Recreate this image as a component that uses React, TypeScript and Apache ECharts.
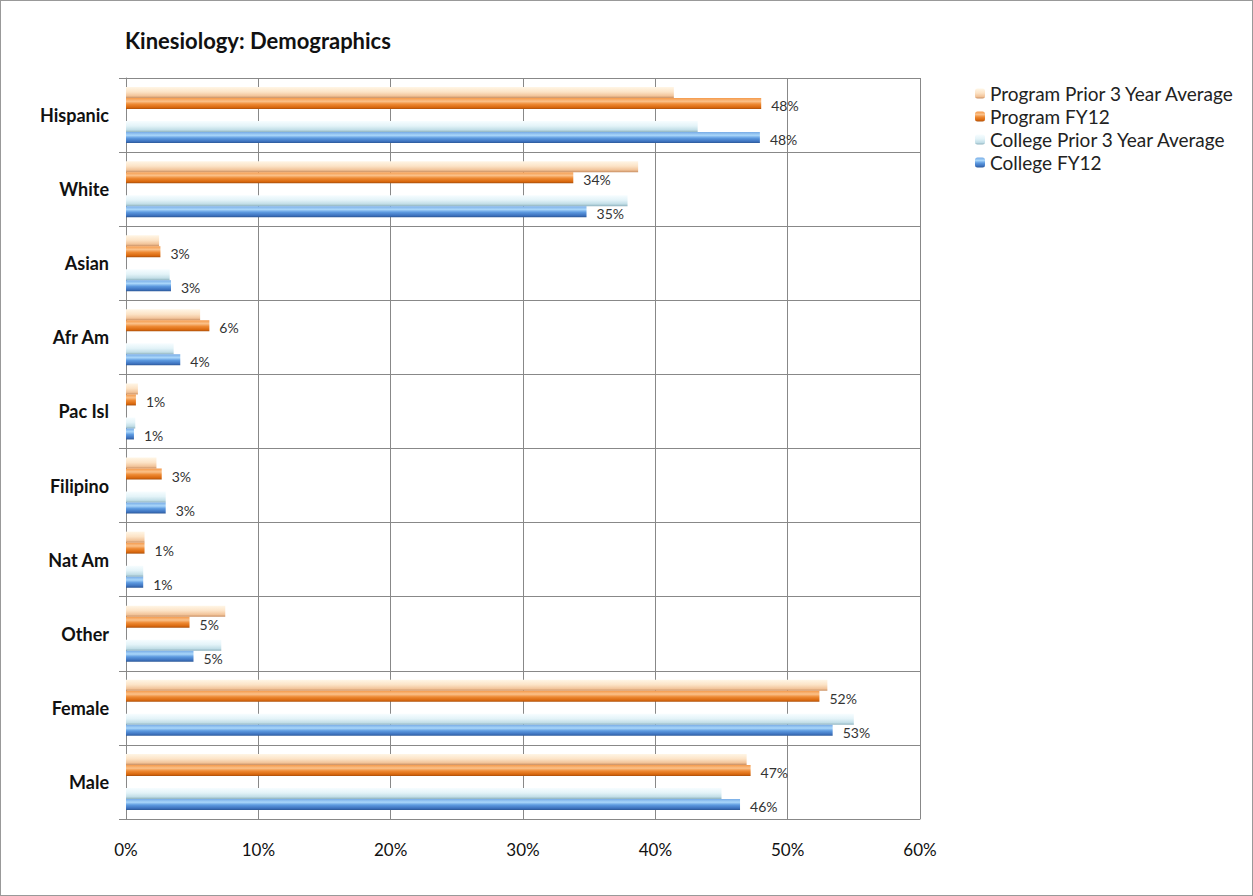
import React, { useEffect, useRef } from "react";
import * as echarts from "echarts";

const categories = ["Hispanic", "White", "Asian", "Afr Am", "Pac Isl", "Filipino", "Nat Am", "Other", "Female", "Male"];
const programPrior = [41.4, 38.7, 2.5, 5.6, 0.9, 2.3, 1.4, 7.5, 53.0, 46.9];
const programFY12 = [48.0, 33.8, 2.6, 6.3, 0.75, 2.7, 1.4, 4.8, 52.4, 47.2];
const collegePrior = [43.2, 37.9, 3.3, 3.6, 0.7, 3.0, 1.3, 7.2, 55.0, 45.0];
const collegeFY12 = [47.9, 34.8, 3.4, 4.1, 0.6, 3.0, 1.3, 5.1, 53.4, 46.4];
const xTicks = [0, 10, 20, 30, 40, 50, 60];
const seriesNames = ["Program Prior 3 Year Average", "Program FY12", "College Prior 3 Year Average", "College FY12"];

const FONT = "Lato, 'Open Sans', sans-serif";

const grad = (stops: [number, string][]) =>
  new echarts.graphic.LinearGradient(0, 0, 0, 1, stops.map(([offset, color]) => ({ offset, color })));

export default function App() {
  const ref = useRef<HTMLDivElement>(null);
  useEffect(() => {
    if (!ref.current) return;
    const chart = echarts.init(ref.current, undefined, { renderer: "svg" });
    const label = {
      show: true,
      position: "right",
      distance: 10,
      offset: [0, 2],
      fontFamily: FONT,
      fontSize: 14,
      color: "#333",
      formatter: (p: any) => Math.round(p.value) + "%",
    };
    const barW = 11;
    chart.setOption({
      animation: false,
      backgroundColor: "#fff",
      title: {
        text: "Kinesiology: Demographics",
        left: 119,
        top: 23,
        textStyle: { fontFamily: FONT, fontSize: 22, fontWeight: "bold", color: "#111" },
      },
      legend: {
        data: seriesNames,
        orient: "vertical",
        left: 969,
        top: 78,
        itemWidth: 10,
        itemHeight: 10,
        itemGap: 4,
        textStyle: { fontFamily: FONT, fontSize: 19, lineHeight: 16, color: "#222" },
      },
      grid: { left: 125, right: 332, top: 77, bottom: 76, containLabel: false, show: false },
      xAxis: {
        type: "value",
        min: 0,
        max: 60,
        interval: 10,
        axisLabel: {
          fontFamily: FONT,
          fontSize: 17,
          color: "#111",
          margin: 22,
          formatter: (v: number) => (xTicks.includes(v) ? v + "%" : ""),
        },
        axisLine: { show: true, lineStyle: { color: "#888" } },
        axisTick: { show: false },
        splitLine: { show: true, lineStyle: { color: "#888", width: 1 } },
      },
      yAxis: {
        type: "category",
        data: categories,
        inverse: true,
        axisLabel: { fontFamily: FONT, fontSize: 18, fontWeight: "bold", color: "#111", margin: 17, padding: [0, 0, 4, 0] },
        axisLine: { show: true, lineStyle: { color: "#888" } },
        axisTick: { show: true, length: 7, lineStyle: { color: "#888" } },
        splitLine: { show: true, lineStyle: { color: "#888", width: 1 } },
      },
      series: [
        {
          name: seriesNames[0],
          type: "bar",
          data: programPrior,
          barWidth: barW,
          barGap: 0,
          itemStyle: {
            color: grad([[0, "#FFF6E6"], [0.45, "#FCE3C6"], [0.8, "#F2C49A"], [1, "#C98F62"]]),
          },
        },
        {
          name: seriesNames[1],
          type: "bar",
          data: programFY12,
          barWidth: barW,
          barGap: 0,
          label,
          itemStyle: {
            color: grad([[0, "#F49A4C"], [0.3, "#FBC189"], [0.55, "#EE8A34"], [0.85, "#D9680E"], [1, "#A84F0C"]]),
          },
        },
        {
          name: "spacer",
          type: "bar",
          data: [],
          barWidth: 12,
          barGap: 0,
          silent: true,
        },
        {
          name: seriesNames[2],
          type: "bar",
          data: collegePrior,
          barWidth: barW,
          barGap: 0,
          itemStyle: {
            color: grad([[0, "#F7FDFF"], [0.45, "#E3F3F8"], [0.8, "#C2DEE7"], [1, "#8FB3BF"]]),
          },
        },
        {
          name: seriesNames[3],
          type: "bar",
          data: collegeFY12,
          barWidth: barW,
          barGap: 0,
          label,
          itemStyle: {
            color: grad([[0, "#78ACE6"], [0.3, "#A9D6FA"], [0.55, "#5D9AE0"], [0.85, "#3D72BE"], [1, "#2B5796"]]),
          },
        },
      ],
    });
    return () => chart.dispose();
  }, []);
  return (
    <div
      style={{
        position: "fixed",
        left: 0,
        top: 0,
        width: 1253,
        height: 896,
        boxSizing: "border-box",
        border: "1px solid #999",
        background: "#fff",
      }}
    >
      <div ref={ref} style={{ width: 1251, height: 894 }} />
    </div>
  );
}
